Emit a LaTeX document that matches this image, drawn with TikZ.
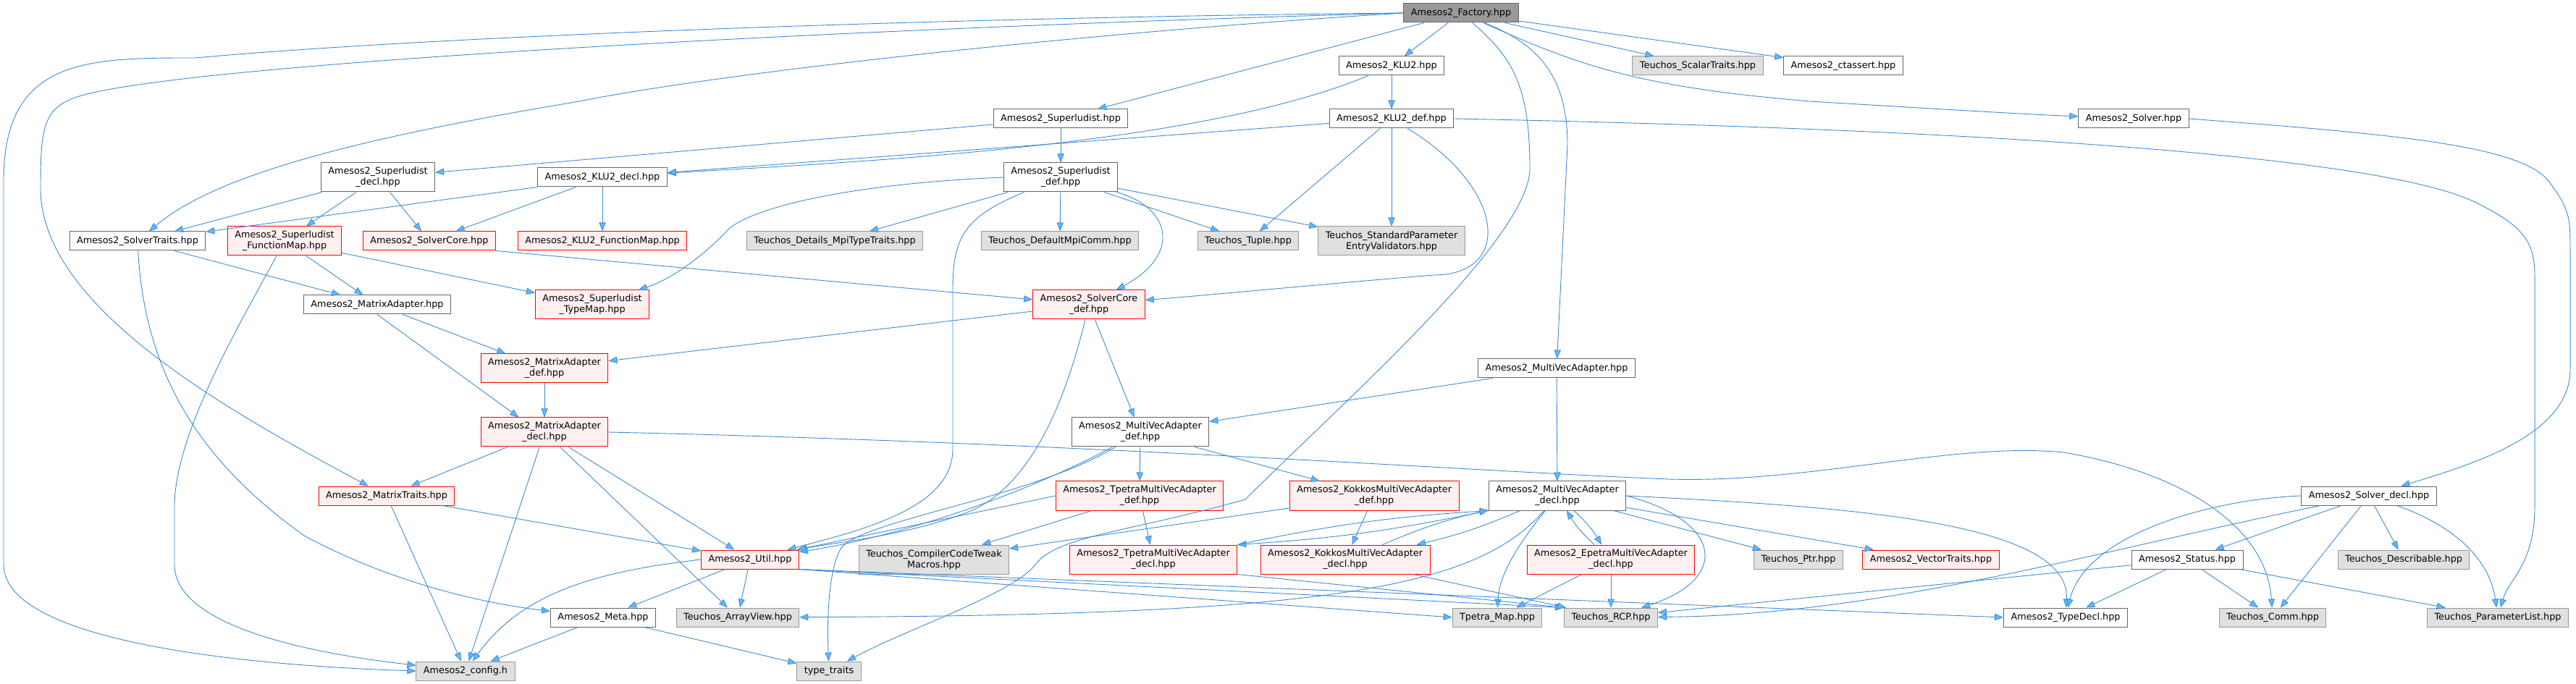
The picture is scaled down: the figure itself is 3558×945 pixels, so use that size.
\documentclass[tikz,border=0pt]{standalone}
\usepackage{fontspec}
\newfontfamily\dotfont{DejaVu Sans}
\usetikzlibrary{arrows.meta}
\definecolor{edgeblue}{HTML}{3E8BD6}
\definecolor{headblue}{HTML}{63B8FF}
\definecolor{redfill}{HTML}{FFF0F0}
\definecolor{extfill}{HTML}{E0E0E0}
\definecolor{extline}{HTML}{999999}
\definecolor{boxline}{HTML}{666666}
\definecolor{srcfill}{HTML}{999999}

\begin{document}
\begin{tikzpicture}[%
    x=0.5pt, y=-0.5pt,          % one unit = one pixel, y going down
    >={Triangle[length=6pt,width=4.6pt,fill=headblue]},
    ]
\tikzset{
  file/.style={draw, line width=0.5pt, align=center, inner xsep=5pt, inner ysep=1pt,
    minimum height=13pt, font=\dotfont\fontsize{6.4}{7.5}\selectfont},
  src/.style={file, fill=srcfill, draw=boxline},
  local/.style={file, fill=white, draw=boxline},
  partial/.style={file, fill=redfill, draw=red},
  ext/.style={file, fill=extfill, draw=extline},
  twoline/.style={minimum height=20pt},
  dep/.style={->, draw=edgeblue, line width=0.45pt}
}
\path[fill=white] (0,0) rectangle (3558,945);

% row 0 - 2
\node [src] (fac) at (2018,18) {Amesos2\_Factory.hpp};
\node [local] (klu) at (1922,91) {Amesos2\_KLU2.hpp};
\node [ext] (sts) at (2345,91) {Teuchos\_ScalarTraits.hpp};
\node [local] (cta) at (2546,91) {Amesos2\_ctassert.hpp};
\node [local] (sup) at (1465,164) {Amesos2\_Superludist.hpp};
\node [local] (kdef) at (1922,164) {Amesos2\_KLU2\_def.hpp};
\node [local] (slv) at (2947,164) {Amesos2\_Solver.hpp};
\node [local, twoline] (supdecl) at (522,245) {Amesos2\_Superludist\\\_decl.hpp};
\node [local] (kdecl) at (832,245) {Amesos2\_KLU2\_decl.hpp};
\node [local, twoline] (sdef) at (1465,245) {Amesos2\_Superludist\\\_def.hpp};

% row 3 - 4
\node [local] (str) at (190,333) {Amesos2\_SolverTraits.hpp};
\node [partial, twoline] (sfm) at (393,333) {Amesos2\_Superludist\\\_FunctionMap.hpp};
\node [partial] (score) at (593,333) {Amesos2\_SolverCore.hpp};
\node [partial] (kfm) at (832,333) {Amesos2\_KLU2\_FunctionMap.hpp};
\node [ext] (mpitt) at (1153,333) {Teuchos\_Details\_MpiTypeTraits.hpp};
\node [ext] (mpicomm) at (1464,333) {Teuchos\_DefaultMpiComm.hpp};
\node [ext] (tuple) at (1724,333) {Teuchos\_Tuple.hpp};
\node [ext, twoline] (spev) at (1922,333) {Teuchos\_StandardParameter\\EntryValidators.hpp};
\node [local] (mad) at (521,421) {Amesos2\_MatrixAdapter.hpp};
\node [partial, twoline] (stm) at (818,421) {Amesos2\_Superludist\\\_TypeMap.hpp};
\node [partial, twoline] (scdef) at (1504,421) {Amesos2\_SolverCore\\\_def.hpp};

% row 5 - 7
\node [partial, twoline] (madef) at (752,509) {Amesos2\_MatrixAdapter\\\_def.hpp};
\node [local] (mvad) at (2150,509) {Amesos2\_MultiVecAdapter.hpp};
\node [partial, twoline] (madecl) at (752,597) {Amesos2\_MatrixAdapter\\\_decl.hpp};
\node [local, twoline] (mvdef) at (1575,597) {Amesos2\_MultiVecAdapter\\\_def.hpp};
\node [partial] (mtr) at (534,685) {Amesos2\_MatrixTraits.hpp};
\node [partial, twoline] (tpdef) at (1574,685) {Amesos2\_TpetraMultiVecAdapter\\\_def.hpp};
\node [partial, twoline] (kkdef) at (1898,685) {Amesos2\_KokkosMultiVecAdapter\\\_def.hpp};
\node [local, twoline] (mvdecl) at (2151,685) {Amesos2\_MultiVecAdapter\\\_decl.hpp};
\node [local] (sdecl) at (3272,685) {Amesos2\_Solver\_decl.hpp};

% row 8 - 10
\node [partial] (util) at (1036,773) {Amesos2\_Util.hpp};
\node [ext, twoline] (cct) at (1290,773) {Teuchos\_CompilerCodeTweak\\Macros.hpp};
\node [partial, twoline] (tpdecl) at (1593,773) {Amesos2\_TpetraMultiVecAdapter\\\_decl.hpp};
\node [partial, twoline] (kkdecl) at (1858,773) {Amesos2\_KokkosMultiVecAdapter\\\_decl.hpp};
\node [partial, twoline] (epdecl) at (2225,773) {Amesos2\_EpetraMultiVecAdapter\\\_decl.hpp};
\node [ext] (ptr) at (2484,773) {Teuchos\_Ptr.hpp};
\node [partial] (vtr) at (2667,773) {Amesos2\_VectorTraits.hpp};
\node [local] (status) at (3021,773) {Amesos2\_Status.hpp};
\node [ext] (desc) at (3320,773) {Teuchos\_Describable.hpp};
\node [local] (meta) at (833,853) {Amesos2\_Meta.hpp};
\node [ext] (av) at (1019,853) {Teuchos\_ArrayView.hpp};
\node [ext] (map) at (2068,853) {Tpetra\_Map.hpp};
\node [ext] (rcp) at (2225,853) {Teuchos\_RCP.hpp};
\node [local] (typedecl) at (2853,853) {Amesos2\_TypeDecl.hpp};
\node [ext] (comm) at (3139,853) {Teuchos\_Comm.hpp};
\node [ext] (plist) at (3450,853) {Teuchos\_ParameterList.hpp};
\node [ext] (cfg) at (643,927) {Amesos2\_config.h};
\node [ext] (tt) at (1145,927) {type\_traits};

% Factory
\draw [dep] (fac.west) .. controls (1300,24) and (600,50) .. (270,80) .. controls (120,80) and (5,80) .. (5,250) -- (5,780) .. controls (5,880) and (300,918) .. (cfg.west);
\draw [dep] (fac.west) .. controls (1200,38) and (300,85) .. (120,130) .. controls (60,145) and (56,170) .. (56,260) .. controls (56,420) and (300,560) .. (mtr);
\draw [dep] (fac.west) .. controls (1500,45) and (1000,100) .. (800,140) .. controls (500,190) and (300,240) .. (str);
\draw [dep] (fac) -- (sup);
\draw [dep] (fac) -- (klu);
\draw [dep] (fac) .. controls (2180,90) and (2260,120) .. (2500,140) .. controls (2700,152) and (2800,158) .. (slv);
\draw [dep] (fac) -- (sts);
\draw [dep] (fac) -- (cta);
\draw [dep] (fac) .. controls (2120,60) and (2165,100) .. (2165,200) -- (mvad);
\draw [dep] (fac) .. controls (2090,80) and (2113,120) .. (2113,233) .. controls (2113,330) and (1850,560) .. (1720,690) .. controls (1560,735) and (1460,740) .. (1430,780) .. controls (1400,820) and (1250,870) .. (tt);

% Superludist / KLU2
\draw [dep] (sup) -- (supdecl);
\draw [dep] (sup) -- (sdef);
\draw [dep] (klu) .. controls (1650,205) and (1150,225) .. (kdecl);
\draw [dep] (klu) -- (kdef);
\draw [dep] (kdef) -- (kdecl);
\draw [dep] (kdef) -- (tuple);
\draw [dep] (kdef) -- (spev);
\draw [dep] (kdef) .. controls (2080,260) and (2090,380) .. (1980,380) .. controls (1800,395) and (1700,405) .. (scdef);
\draw [dep] (kdef.east) .. controls (2800,180) and (3300,220) .. (3420,280) .. controls (3480,310) and (3501,330) .. (3501,380) -- (3501,700) .. controls (3501,780) and (3465,800) .. (plist);
\draw [dep] (slv.east) .. controls (3300,185) and (3480,200) .. (3520,250) .. controls (3550,290) and (3550,300) .. (3550,350) -- (3550,510) .. controls (3550,600) and (3420,640) .. (sdecl);
\draw [dep] (supdecl) -- (str);
\draw [dep] (supdecl) -- (sfm);
\draw [dep] (supdecl) -- (score);
\draw [dep] (kdecl.south west) -- (str);
\draw [dep] (kdecl) -- (score);
\draw [dep] (kdecl) -- (kfm);
\draw [dep] (sdef) -- (mpitt);
\draw [dep] (sdef) -- (mpicomm);
\draw [dep] (sdef) -- (tuple);
\draw [dep] (sdef) -- (spev);
\draw [dep] (sdef) .. controls (1615,285) and (1635,350) .. (scdef);
\draw [dep] (sdef.west) .. controls (1150,255) and (1030,292) .. (1005,318) .. controls (975,350) and (930,385) .. (stm);
\draw [dep] (sdef) .. controls (1330,300) and (1316,330) .. (1316,400) -- (1316,620) .. controls (1316,700) and (1200,730) .. (util);

% solver core and matrix adapter
\draw [dep] (sfm) -- (mad);
\draw [dep] (sfm) -- (stm);
\draw [dep] (sfm) .. controls (330,450) and (241,600) .. (241,700) -- (241,780) .. controls (241,870) and (450,905) .. (cfg);
\draw [dep] (str) -- (mad);
\draw [dep] (str) .. controls (200,520) and (280,640) .. (420,740) .. controls (550,810) and (680,835) .. (meta);
\draw [dep] (score.south east) -- (scdef);
\draw [dep] (scdef) -- (madef);
\draw [dep] (scdef) -- (mvdef);
\draw [dep] (scdef) .. controls (1470,560) and (1420,680) .. (1330,710) .. controls (1250,740) and (1150,750) .. (util);
\draw [dep] (mad) -- (madef);
\draw [dep] (mad.south) -- (madecl.150);
\draw [dep] (madef) -- (madecl);
\draw [dep] (madecl) -- (mtr);
\draw [dep] (madecl) -- (util);
\draw [dep] (madecl) -- (av);
\draw [dep] (madecl) -- (cfg);
\draw [dep] (madecl.east) .. controls (1500,612) and (2050,652) .. (2305,662) .. controls (2500,668) and (2700,610) .. (2850,625) .. controls (3000,650) and (3130,720) .. (comm);
\draw [dep] (mtr) -- (cfg);
\draw [dep] (mtr) -- (util);

% util and meta
\draw [dep] (util) -- (av);
\draw [dep] (util) -- (meta);
\draw [dep] (util.west) .. controls (820,790) and (720,820) .. (cfg);
\draw [dep] (util.south east) -- (map.west);
\draw [dep] (util.south east) -- (rcp.north west);
\draw [dep] (util.south east) -- (typedecl.west);
\draw [dep] (meta) -- (cfg);
\draw [dep] (meta) -- (tt);

% multivector adapters
\draw [dep] (mvad) -- (mvdef);
\draw [dep] (mvad) -- (mvdecl);
\draw [dep] (mvdef) .. controls (1420,680) and (1250,740) .. (util);
\draw [dep] (mvdef) -- (tpdef);
\draw [dep] (mvdef) -- (kkdef);
\draw [dep] (mvdef) .. controls (1420,690) and (1180,720) .. (1160,760) .. controls (1145,790) and (1142,850) .. (tt);
\draw [dep] (tpdef.west) -- (util);
\draw [dep] (tpdef) -- (cct);
\draw [dep] (tpdef) -- (tpdecl);
\draw [dep] (kkdef) -- (cct);
\draw [dep] (kkdef) -- (kkdecl);
\draw [dep] (mvdecl.south west) to[bend left=4] (tpdecl.north east);
\draw [dep] (tpdecl.north east) to[bend left=4] (mvdecl.south west);
\draw [dep] (mvdecl) to[bend left=5] (kkdecl);
\draw [dep] (kkdecl) to[bend left=5] (mvdecl);
\draw [dep] (mvdecl) to[bend left=8] (epdecl);
\draw [dep] (epdecl) to[bend left=8] (mvdecl);
\draw [dep] (mvdecl) -- (ptr);
\draw [dep] (mvdecl) -- (vtr);
\draw [dep] (mvdecl) .. controls (2090,760) and (2070,800) .. (map);
\draw [dep] (mvdecl.east) .. controls (2380,720) and (2390,800) .. (rcp);
\draw [dep] (mvdecl.east) .. controls (2550,700) and (2860,720) .. (typedecl);
\draw [dep] (mvdecl) .. controls (2040,810) and (1850,850) .. (av);
\draw [dep] (tpdecl.south east) -- (rcp.north west);
\draw [dep] (kkdecl) -- (rcp);
\draw [dep] (epdecl) -- (map);
\draw [dep] (epdecl) -- (rcp);

% solver declaration
\draw [dep] (sdecl) -- (status);
\draw [dep] (sdecl) -- (desc);
\draw [dep] (sdecl) -- (comm);
\draw [dep] (sdecl) .. controls (3400,730) and (3440,780) .. (plist);
\draw [dep] (sdecl.west) .. controls (3050,690) and (2880,740) .. (typedecl);
\draw [dep] (sdecl) .. controls (2900,760) and (2600,850) .. (rcp);
\draw [dep] (status) -- (typedecl);
\draw [dep] (status) -- (comm);
\draw [dep] (status) -- (plist);
\draw [dep] (status) -- (rcp);
\end{tikzpicture}
\end{document}
